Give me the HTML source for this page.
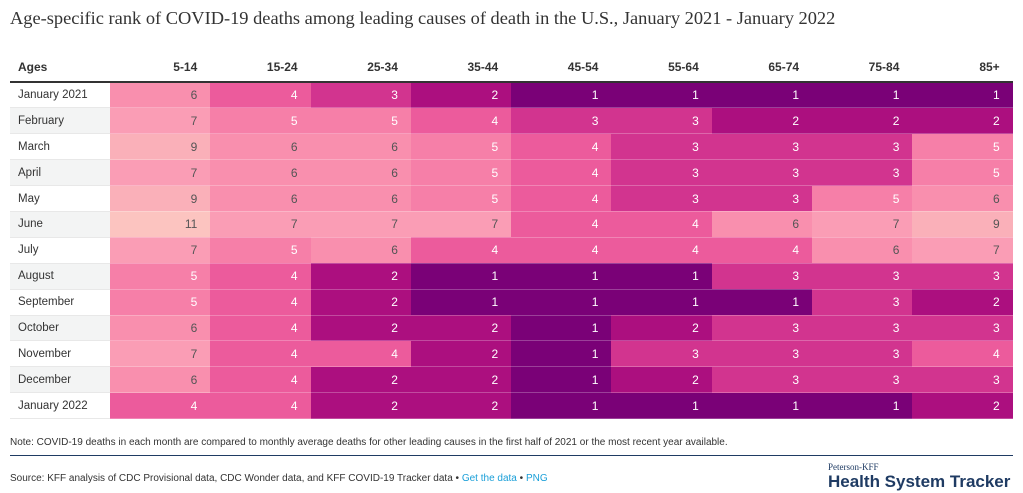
<!DOCTYPE html>
<html><head><style>
body{margin:0;width:1023px;height:493px;background:#fff;font-family:"Liberation Sans",sans-serif;position:relative;overflow:hidden;color:#333}
.title{position:absolute;left:10px;top:8px;font-family:"Liberation Serif",serif;font-size:18.4px;color:#333}
table{position:absolute;left:10px;top:52px;border-collapse:collapse;table-layout:fixed}
th{height:29px;font-size:12px;font-weight:bold;text-align:right;padding:0 13px 0 0;border-bottom:2px solid #333;color:#333}
th.a{text-align:left;padding-left:8px}
td{height:25.9px;padding:0 13px 0 0;font-size:12px;text-align:right;box-sizing:border-box;border-bottom:1px solid rgba(255,255,255,.25)}
td.l{text-align:left;padding-left:8px;color:#333;font-size:11.5px;border-bottom:1px solid #e8e8e8}
tr:nth-child(even) td.l{background:#f3f4f4}
.w{color:#fff}.d{color:#555}
.note{position:absolute;left:10px;top:437px;font-size:10px;color:#333}
.hr{position:absolute;left:10px;top:455px;width:1003px;height:1px;background:#1f3b63}
.src{position:absolute;left:10px;top:473px;font-size:10px;color:#333}
.src span{color:#1a9fd8}
.logo1{position:absolute;left:828px;top:462px;font-size:9px;color:#1f3b63;font-family:"Liberation Serif",serif}
.logo2{position:absolute;left:828px;top:472px;font-size:17px;font-weight:bold;color:#1f3b63}
</style></head><body>
<div class="title">Age-specific rank of COVID-19 deaths among leading causes of death in the U.S., January 2021 - January 2022</div>
<table id="t"><colgroup><col style="width:100px"><col span="9" style="width:100.3px"></colgroup>
<thead><tr><th class="a">Ages</th><th>5-14</th><th>15-24</th><th>25-34</th><th>35-44</th><th>45-54</th><th>55-64</th><th>65-74</th><th>75-84</th><th>85+</th></tr></thead>
<tbody id="b"></tbody></table>
<div class="note">Note: COVID-19 deaths in each month are compared to monthly average deaths for other leading causes in the first half of 2021 or the most recent year available.</div>
<div class="hr"></div>
<div class="src">Source: KFF analysis of CDC Provisional data, CDC Wonder data, and KFF COVID-19 Tracker data • <span>Get the data</span> • <span>PNG</span></div>
<div class="logo1">Peterson-KFF</div>
<div class="logo2">Health System Tracker</div>
<script>
var rows=[["January 2021",6,4,3,2,1,1,1,1,1],["February",7,5,5,4,3,3,2,2,2],["March",9,6,6,5,4,3,3,3,5],["April",7,6,6,5,4,3,3,3,5],["May",9,6,6,5,4,3,3,5,6],["June",11,7,7,7,4,4,6,7,9],["July",7,5,6,4,4,4,4,6,7],["August",5,4,2,1,1,1,3,3,3],["September",5,4,2,1,1,1,1,3,2],["October",6,4,2,2,1,2,3,3,3],["November",7,4,4,2,1,3,3,3,4],["December",6,4,2,2,1,2,3,3,3],["January 2022",4,4,2,2,1,1,1,1,2]];
var c={1:"#7a0177",2:"#ac0f7f",3:"#d2348f",4:"#ec5b9c",5:"#f67fa8",6:"#f98fae",7:"#fa9db5",9:"#fab0b9",11:"#fcc4c0"};
var h="";rows.forEach(function(r){h+="<tr><td class='l'>"+r[0]+"</td>";for(var i=1;i<10;i++){h+="<td class='"+(r[i]<=5?"w":"d")+"' style='background:"+c[r[i]]+"'>"+r[i]+"</td>";}h+="</tr>";});
document.getElementById("b").innerHTML=h;
</script>
</body></html>
